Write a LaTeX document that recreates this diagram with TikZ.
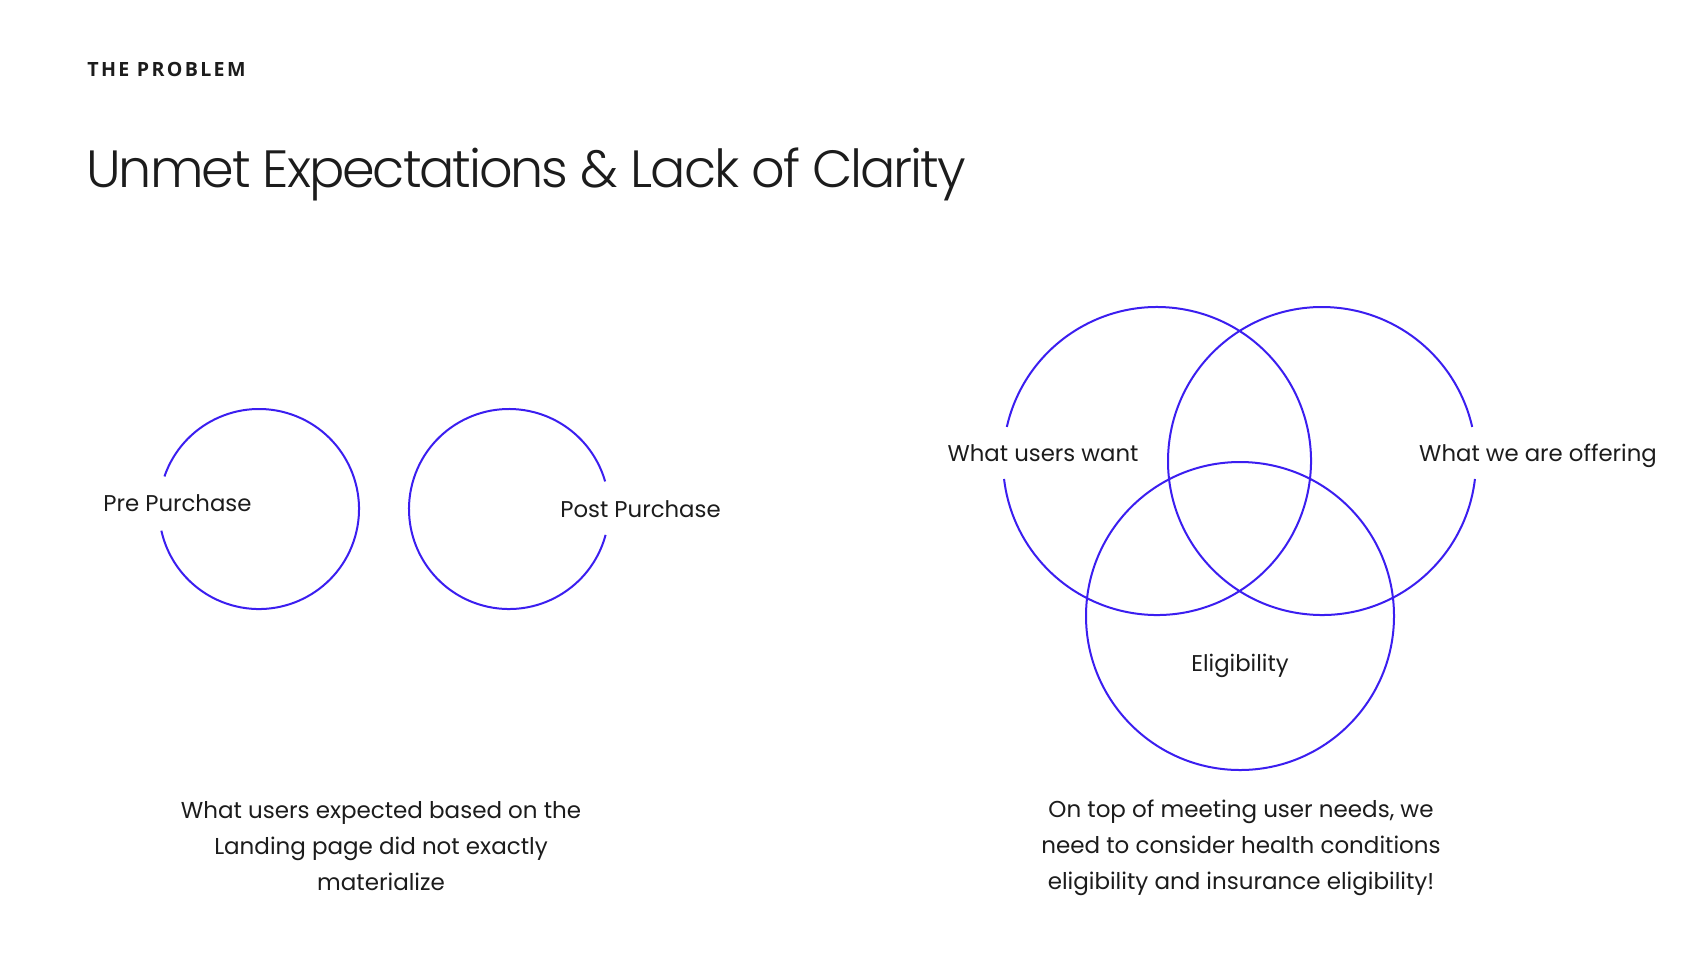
\documentclass[tikz,border=0pt]{standalone}
\usepackage{fontspec}
\setmainfont{Poppins}
\newfontfamily\labelfont{Open Sans}
\newfontfamily\titlefont[LetterSpace=-4]{Poppins Light}
\definecolor{vblue}{HTML}{3B1EF0}
\definecolor{ink}{HTML}{1C1C1C}
\begin{document}
\begin{tikzpicture}[x=0.5pt,y=-0.5pt,
  ring/.style={draw=vblue,line width=1pt},
  lbl/.style={text=ink,font=\fontsize{11.4}{13}\selectfont,inner sep=0pt},
  para/.style={text=ink,font=\fontsize{11.5}{18}\selectfont,align=center,inner sep=0pt}]
\useasboundingbox[fill=white] (0,0) rectangle (1706,976);
\node[anchor=west,inner sep=0pt,text=ink,font=\labelfont\bfseries\fontsize{9.8}{11}\selectfont\addfontfeature{LetterSpace=12}] (kicker) at (87,69) {THE PROBLEM};
\node[anchor=base west,inner sep=0pt,text=ink,font=\titlefont\fontsize{26.2}{30}\selectfont] (title) at (86,187) {Unmet Expectations \& Lack of Clarity};
% left circles
\coordinate (c1) at (259,509);
\coordinate (c2) at (509,509);
\draw[ring] (c1) ++(199:100) arc[start angle=199,end angle=527.5,radius=100];
\draw[ring] (c2) ++(15:100) arc[start angle=15,end angle=344,radius=100];
\node[lbl,anchor=west] (pre) at (103,503) {Pre Purchase};
\node[lbl,anchor=west] (post) at (560,509) {Post Purchase};
% venn
\coordinate (va) at (1157,461);
\coordinate (vb) at (1322,461);
\coordinate (vc) at (1240,616);
\draw[ring] (va) ++(192.8:154) arc[start angle=192.8,end angle=533.3,radius=154];
\draw[ring] (vb) ++(6.7:154) arc[start angle=6.7,end angle=347.2,radius=154];
\draw[ring] (vc) circle[radius=154];
\node[lbl] (want) at (1043,453) {What users want};
\node[lbl] (offer) at (1538,456) {What we are offering};
\node[lbl] (elig) at (1240,666) {Eligibility};
\node[para] (lt) at (381,846) {What users expected based on the\\Landing page did not exactly\\materialize};
\node[para] (rt) at (1241,848) {On top of meeting user needs, we\\need to consider health conditions\\eligibility and insurance eligibility!};
\end{tikzpicture}
\end{document}
